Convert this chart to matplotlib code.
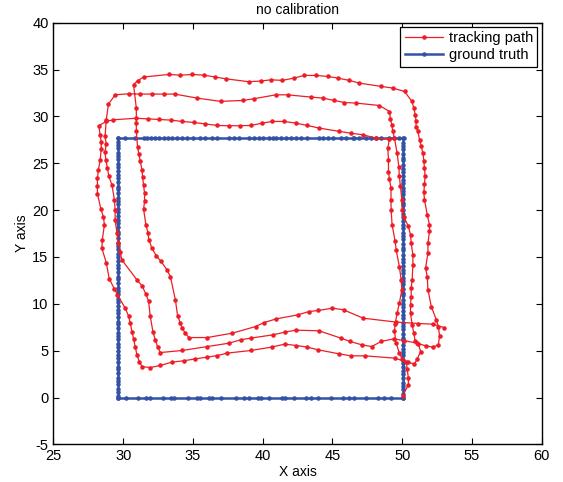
import matplotlib
matplotlib.use('Agg')
import matplotlib.pyplot as plt

plt.rcParams['font.family'] = ['Liberation Sans', 'DejaVu Sans']
plt.rcParams['font.size'] = 10
plt.rcParams['axes.unicode_minus'] = False

# ground truth: rectangle walked 3 times, sample points along each side
gt_left_x = 29.6
gt_right_x = 50.05
gt_top_y = 27.7
gt_bottom_y = 0.0
gt_right_ys = [0.0, 0.4, 0.9, 1.2, 1.6, 2.1, 2.5, 2.8, 3.3, 3.7, 4.0, 4.5, 4.9, 5.2,
               5.6, 6.1, 6.4, 6.8, 7.3, 7.6, 8.0, 8.5, 8.8, 9.2, 9.7, 10.0, 10.4,
               10.9, 11.2, 11.6, 12.1, 12.4, 12.8, 13.3, 13.6, 14.0, 14.5, 14.8,
               15.2, 15.7, 16.0, 16.4, 16.9, 17.2, 17.6, 18.1, 18.4, 18.8, 19.3,
               19.6, 20.0, 20.5, 20.8, 21.2, 21.7, 22.0, 22.4, 22.9, 23.2, 23.6,
               24.1, 24.4, 24.8, 25.3, 25.6, 26.0, 26.5, 26.8, 27.2, 27.7]
gt_top_xs = [50.12, 49.81, 49.45, 49.09, 48.49, 48.13, 47.77, 47.41, 46.93, 46.57,
             46.45, 45.97, 45.61, 45.01, 44.65, 44.3, 44.05, 43.2, 42.73, 42.37,
             42.01, 41.65, 41.29, 40.94, 40.77, 40.45, 40.05, 39.73, 39.37, 39.01,
             38.29, 37.93, 37.58, 36.69, 36.38, 35.9, 35.49, 35.01, 34.58, 34.22,
             33.86, 33.5, 33.19, 32.9, 32.59, 32.3, 31.99, 31.7, 31.46, 30.86,
             30.14, 29.6]
gt_left_ys = [27.7, 27.3, 26.9, 26.6, 26.1, 25.8, 25.4, 24.9, 24.6, 24.2, 23.7,
              23.4, 23.0, 22.5, 22.2, 21.8, 21.3, 21.0, 20.6, 20.1, 19.8, 19.4,
              18.9, 18.6, 18.2, 17.7, 17.4, 17.0, 16.5, 16.2, 15.8, 15.3, 15.0,
              14.6, 14.1, 13.8, 13.4, 12.9, 12.6, 12.2, 11.7, 11.4, 11.0, 10.5,
              10.2, 9.8, 9.3, 9.0, 8.6, 8.1, 7.8, 7.4, 6.9, 6.6, 6.2, 5.7, 5.4,
              5.0, 4.5, 4.2, 3.8, 3.3, 3.0, 2.6, 2.1, 1.8, 1.4, 0.9, 0.6, 0.2, 0.0]
gt_bottom_xs = [29.6, 30.17, 31.03, 31.63, 31.94, 32.86, 33.43, 33.67, 34.63, 35.3,
                35.54, 36.12, 36.4, 36.98, 38.08, 38.65, 39.01, 39.66, 39.91, 40.48,
                41.35, 41.58, 42.25, 43.09, 43.5, 43.94, 44.89, 45.73, 46.2, 46.57,
                47.41, 48.25, 48.7, 49.21, 50.05]

# tracking path, three laps (counter-clockwise from the bottom right corner)
lap1_x = [50.05, 50.45, 50.45, 50.36, 50.31, 50.0, 49.8, 49.57, 49.45, 49.5, 49.64,
          49.8, 49.98, 49.93, 49.8, 49.57, 49.5, 49.28, 49.21, 49.2, 49.2, 49.09,
          49.02, 49.02, 48.97, 49.09,
          48.13, 47.17, 46.33, 45.49, 44.05, 43.2, 42.37, 41.53, 40.7, 39.98, 39.14,
          38.37, 37.58, 36.74, 35.83, 35.06, 34.22, 33.43, 32.59, 31.75, 30.94,
          29.3, 28.78, 28.25,
          28.35, 28.42, 28.42, 28.35, 28.22, 28.15, 28.15, 28.15, 28.4, 28.58,
          28.65, 28.5, 28.47, 28.78, 29.0, 29.37, 29.59, 30.14, 30.38, 30.5, 30.63,
          30.74, 30.86, 30.98, 31.15, 31.35,
          31.94, 32.66, 33.5, 34.34, 35.18, 36.02, 36.74, 37.46, 39.14, 40.65,
          41.58, 42.42, 43.2, 43.98, 45.49, 46.33, 47.34, 49.5, 50.4, 50.88]
lap1_y = [0.2, 1.36, 2.07, 3.03, 3.78, 4.1, 4.74, 5.8, 7.05, 7.9, 9.0, 10.07, 11.5,
          12.56, 13.98, 15.76, 16.65, 18.43, 20.03, 21.1, 22.35, 23.3, 24.1, 25.37,
          26.6, 27.6,
          27.68, 28.04, 28.2, 28.4, 28.75, 29.03, 29.28, 29.46, 29.46, 29.28, 29.03,
          29.0, 29.0, 29.03, 29.2, 29.35, 29.46, 29.6, 29.67, 29.74, 29.8, 29.64,
          29.46, 29.0,
          28.04, 27.3, 26.5, 25.37, 24.3, 23.4, 22.6, 21.74, 20.1, 19.3, 18.43,
          16.83, 15.94, 14.4, 12.67, 11.57, 10.96, 9.54, 8.72, 7.94, 7.04, 6.23,
          5.44, 4.56, 3.84, 3.31,
          3.2, 3.42, 3.78, 3.92, 4.13, 4.31, 4.48, 4.74, 5.02, 5.38, 5.7, 5.55,
          5.38, 5.09, 4.66, 4.45, 4.45, 4.2, 3.74, 3.6]

lap2_x = [51.08, 51.32, 51.17, 50.94, 50.84, 50.72, 50.6, 50.6, 50.65, 50.65, 50.72,
          50.77, 50.77, 50.65, 50.6, 50.45, 50.12, 50.0, 49.98, 49.88, 49.8, 49.76,
          49.64, 49.45, 49.33, 49.26, 49.16, 49.09,
          48.37, 46.69, 45.85, 45.13, 44.3, 43.45, 41.78, 40.94, 39.37, 38.58,
          36.98, 35.3, 33.69, 32.9, 32.06, 31.17, 30.38, 29.42,
          28.94, 28.78, 28.7, 28.78, 28.7, 28.75, 28.87, 28.97, 29.19, 29.37, 29.42,
          29.42, 29.55, 29.66, 29.78, 29.9, 30.98, 31.35, 31.63, 31.82, 31.94, 32.13,
          32.3, 32.47, 32.66,
          34.22, 36.02, 37.58, 38.42, 39.14, 40.74, 41.58, 42.37, 44.05, 45.6, 46.28,
          47.12, 47.82, 48.49, 49.4, 50.12, 51.08, 51.68, 52.2, 52.6]
lap2_y = [4.1, 4.91, 5.73, 5.98, 6.87, 7.76, 9.0, 9.9, 10.78, 11.67, 12.56, 14.16,
          15.23, 16.48, 17.36, 18.25, 19.3, 20.03, 21.1, 22.52, 23.6, 24.65, 26.08,
          27.68, 28.39, 29.1, 29.7, 30.52,
          31.16, 31.42, 31.48, 31.7, 31.95, 32.06, 32.3, 32.3, 31.88, 31.7, 31.6,
          31.95, 32.38, 32.38, 32.38, 32.38, 32.41, 32.3,
          31.3, 29.6, 27.86, 27.06, 26.25, 25.37, 24.48, 23.6, 22.7, 21.1, 20.03,
          18.96, 17.55, 16.48, 15.58, 14.7, 12.56, 11.92, 11.03, 10.25, 8.65, 7.04,
          6.16, 5.38, 4.8,
          5.02, 5.44, 5.8, 6.16, 6.34, 6.69, 6.98, 7.19, 7.12, 6.34, 5.98, 5.62,
          5.44, 5.98, 6.26, 6.08, 5.8, 5.52, 5.38, 5.62]

lap3_x = [52.68, 52.6, 52.45, 52.09, 51.85, 51.8, 51.68, 51.85, 51.85, 51.96, 51.96,
          51.8, 51.6, 51.56, 51.6, 51.65, 51.6, 51.56, 51.49, 51.37, 51.25, 51.13,
          51.0, 51.0, 50.94, 50.84, 50.7, 50.17,
          49.33, 48.49, 46.93, 46.2, 45.37, 44.65, 43.81, 42.97, 42.25, 41.42, 40.6,
          39.86, 39.0, 37.39, 36.6, 35.78, 34.94, 34.1, 33.26, 31.46, 31.03, 30.74,
          30.94, 30.94, 30.94, 31.03, 31.13, 31.22, 31.35, 31.39, 31.46, 31.53,
          31.53, 31.46, 31.63, 31.77, 31.85, 32.06, 32.37, 32.71, 33.14, 33.38,
          33.74, 33.9, 34.1, 34.22, 34.46, 34.7,
          36.02, 37.82, 39.5, 40.09, 40.99, 42.54, 43.33, 44.0, 45.0, 45.8, 47.2,
          49.57, 51.17, 52.2, 53.0]
lap3_y = [6.58, 7.58, 8.29, 9.71, 11.5, 12.91, 13.81, 15.41, 16.48, 17.72, 18.43,
          19.5, 21.1, 21.88, 22.8, 23.6, 24.48, 25.2, 26.08, 26.8, 27.5, 28.39,
          28.9, 29.46, 30.17, 30.88, 31.6, 32.66,
          33.02, 33.2, 33.55, 33.84, 34.09, 34.26, 34.37, 34.37, 34.09, 33.84, 33.9,
          33.77, 33.7, 34.0, 34.2, 34.4, 34.47, 34.4, 34.47, 34.2, 33.8, 33.4,
          30.88, 29.28, 28.46, 26.72, 25.97, 25.2, 24.3, 23.52, 22.7, 21.8, 20.92,
          20.1, 18.43, 17.6, 16.76, 15.94, 15.12, 14.52, 13.63, 12.91, 10.43, 8.72,
          7.94, 7.4, 6.87, 6.4,
          6.4, 6.87, 7.58, 8.0, 8.4, 8.83, 9.18, 9.29, 9.54, 9.36, 8.47, 8.05, 7.9,
          7.83, 7.47]


def ground_truth_path():
    xs, ys = [], []
    for y in gt_right_ys:
        xs.append(gt_right_x)
        ys.append(y)
    for x in gt_top_xs:
        xs.append(x)
        ys.append(gt_top_y)
    for y in gt_left_ys:
        xs.append(gt_left_x)
        ys.append(y)
    for x in gt_bottom_xs:
        xs.append(x)
        ys.append(gt_bottom_y)
    return xs, ys


def main():
    fig = plt.figure(figsize=(5.63, 4.82), dpi=100)
    ax = fig.add_axes([0.095, 0.078, 0.867, 0.875])

    track_x = lap1_x + lap2_x + lap3_x
    track_y = lap1_y + lap2_y + lap3_y
    ax.plot(track_x, track_y, '.-', color='#ee1c25', lw=0.9, ms=4.5,
            label='tracking path', zorder=3)

    gx, gy = ground_truth_path()
    ax.plot(gx, gy, '.-', color='#3452a4', lw=1.8, ms=4.5,
            label='ground truth', zorder=2)

    ax.set_xlim(25, 60)
    ax.set_ylim(-5, 40)
    ax.set_xticks(range(25, 61, 5))
    ax.set_yticks(range(-5, 41, 5))
    ax.tick_params(direction='in', top=True, right=True, length=4, labelsize=10.5)
    for s in ax.spines.values():
        s.set_linewidth(1.0)

    ax.set_title('no calibration', fontsize=10, pad=6)
    ax.set_xlabel('X axis', fontsize=10, labelpad=1)
    ax.set_ylabel('Y axis', fontsize=10, labelpad=2)

    leg = ax.legend(loc='upper right', fancybox=False, edgecolor='black',
                    framealpha=1, borderaxespad=0.3, handlelength=2.6,
                    handletextpad=0.4, labelspacing=0.2, borderpad=0.3,
                    fontsize=10.5)
    leg.get_frame().set_linewidth(0.9)

    fig.savefig('out.png', dpi=100)


if __name__ == '__main__':
    main()
